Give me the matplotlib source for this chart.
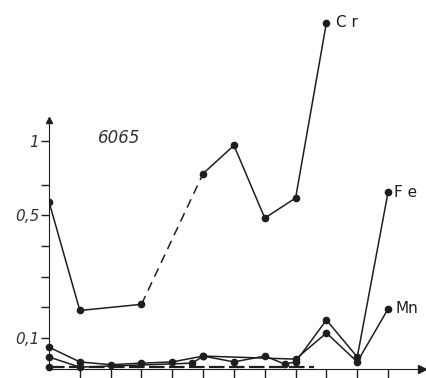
import numpy as np
import matplotlib.pyplot as plt

# Gehalte der Legierung 6065 je Probe (Massen-%)
cr_x = [0, 1, 3, 5, 6, 7, 8, 9]
cr_y = [0.59, 0.19, 0.21, 0.78, 0.97, 0.49, 0.615, 1.80]

fe_x = [0, 1, 2, 3, 4, 5, 6, 7, 7.65, 8, 9, 10, 11]
fe_y = [0.071, 0.023, 0.014, 0.019, 0.023, 0.042, 0.023, 0.042, 0.016, 0.023, 0.159, 0.039, 0.655]

mn_x = [0, 1, 4.65, 5, 8, 9, 10, 11]
mn_y = [0.039, 0.006, 0.019, 0.042, 0.032, 0.117, 0.023, 0.195]

rest_x = [0, 8.6]
rest_y = [0.005, 0.005]

ytick_vals = [0.1, 0.2, 0.3, 0.4, 0.5, 0.7, 1.0]
ytick_text = {0.1: '0,1', 0.5: '0,5', 1.0: '1'}

# oberhalb 0,5 gestauchte Achse
K = 148 / 308


def fwd(v):
    v = np.asarray(v, dtype=float)
    return np.where(v <= 0.5, v, 0.5 + (v - 0.5) * K)


def inv(u):
    u = np.asarray(u, dtype=float)
    return np.where(u <= 0.5, u, 0.5 + (u - 0.5) / K)


col = '#1e1e1e'
fig = plt.figure(figsize=(4.26, 3.78), dpi=100)
ax = fig.add_axes([49 / 426, 9 / 378, 373 / 426, 359 / 378])
ax.set_yscale('function', functions=(fwd, inv))
ax.set_xlim(0, 12.1)
ax.set_ylim(0, float(inv(359 / 308)))

for s in ['top', 'right']:
    ax.spines[s].set_visible(False)
ax.spines['left'].set_bounds(0, 1.14)
ax.spines['left'].set_color(col)
ax.spines['bottom'].set_color(col)

# Pfeilspitzen an den Achsen
ax.plot(0, 1.14, '^', color=col, ms=5, clip_on=False)
ax.plot(1, 0, '>', color=col, ms=6, transform=ax.get_yaxis_transform(), clip_on=False)

ax.set_xticks(range(1, 12))
ax.set_xticklabels([])
ax.tick_params(axis='x', direction='out', length=7, width=1, color=col)
ax.set_yticks(ytick_vals)
ax.set_yticklabels([ytick_text.get(v, '') for v in ytick_vals], fontstyle='italic',
                   fontsize=11, color='#333333')
ax.tick_params(axis='y', direction='out', length=6, width=1, color=col, pad=1)

lw = 1.1
ms = 4.5
# Cr, Luecke zwischen Probe 3 und 5 gestrichelt
ax.plot(cr_x[:3], cr_y[:3], '-o', color=col, lw=lw, ms=ms)
ax.plot(cr_x[3:], cr_y[3:], '-o', color=col, lw=lw, ms=ms)
ax.plot(cr_x[2:4], cr_y[2:4], color=col, lw=lw, dashes=(6, 4))

ax.plot(fe_x, fe_y, '-o', color=col, lw=lw, ms=ms, clip_on=False)
ax.plot(mn_x, mn_y, '-o', color=col, lw=lw, ms=ms, clip_on=False)
ax.plot(rest_x, rest_y, color=col, lw=1.6, dashes=(7, 2), marker='o', ms=ms,
        markevery=[0], clip_on=False)

ax.text(cr_x[-1] + 0.3, cr_y[-1], 'C r', fontsize=11, va='center', color=col)
ax.text(fe_x[-1] + 0.2, fe_y[-1], 'F e', fontsize=11, va='center', color=col)
ax.text(mn_x[-1] + 0.25, mn_y[-1], 'Mn', fontsize=11, va='center', color=col)
ax.text(1.6, 1.02, '6065', fontsize=12, fontstyle='italic', va='center', color='#333333')

fig.savefig('out.png', dpi=100)
